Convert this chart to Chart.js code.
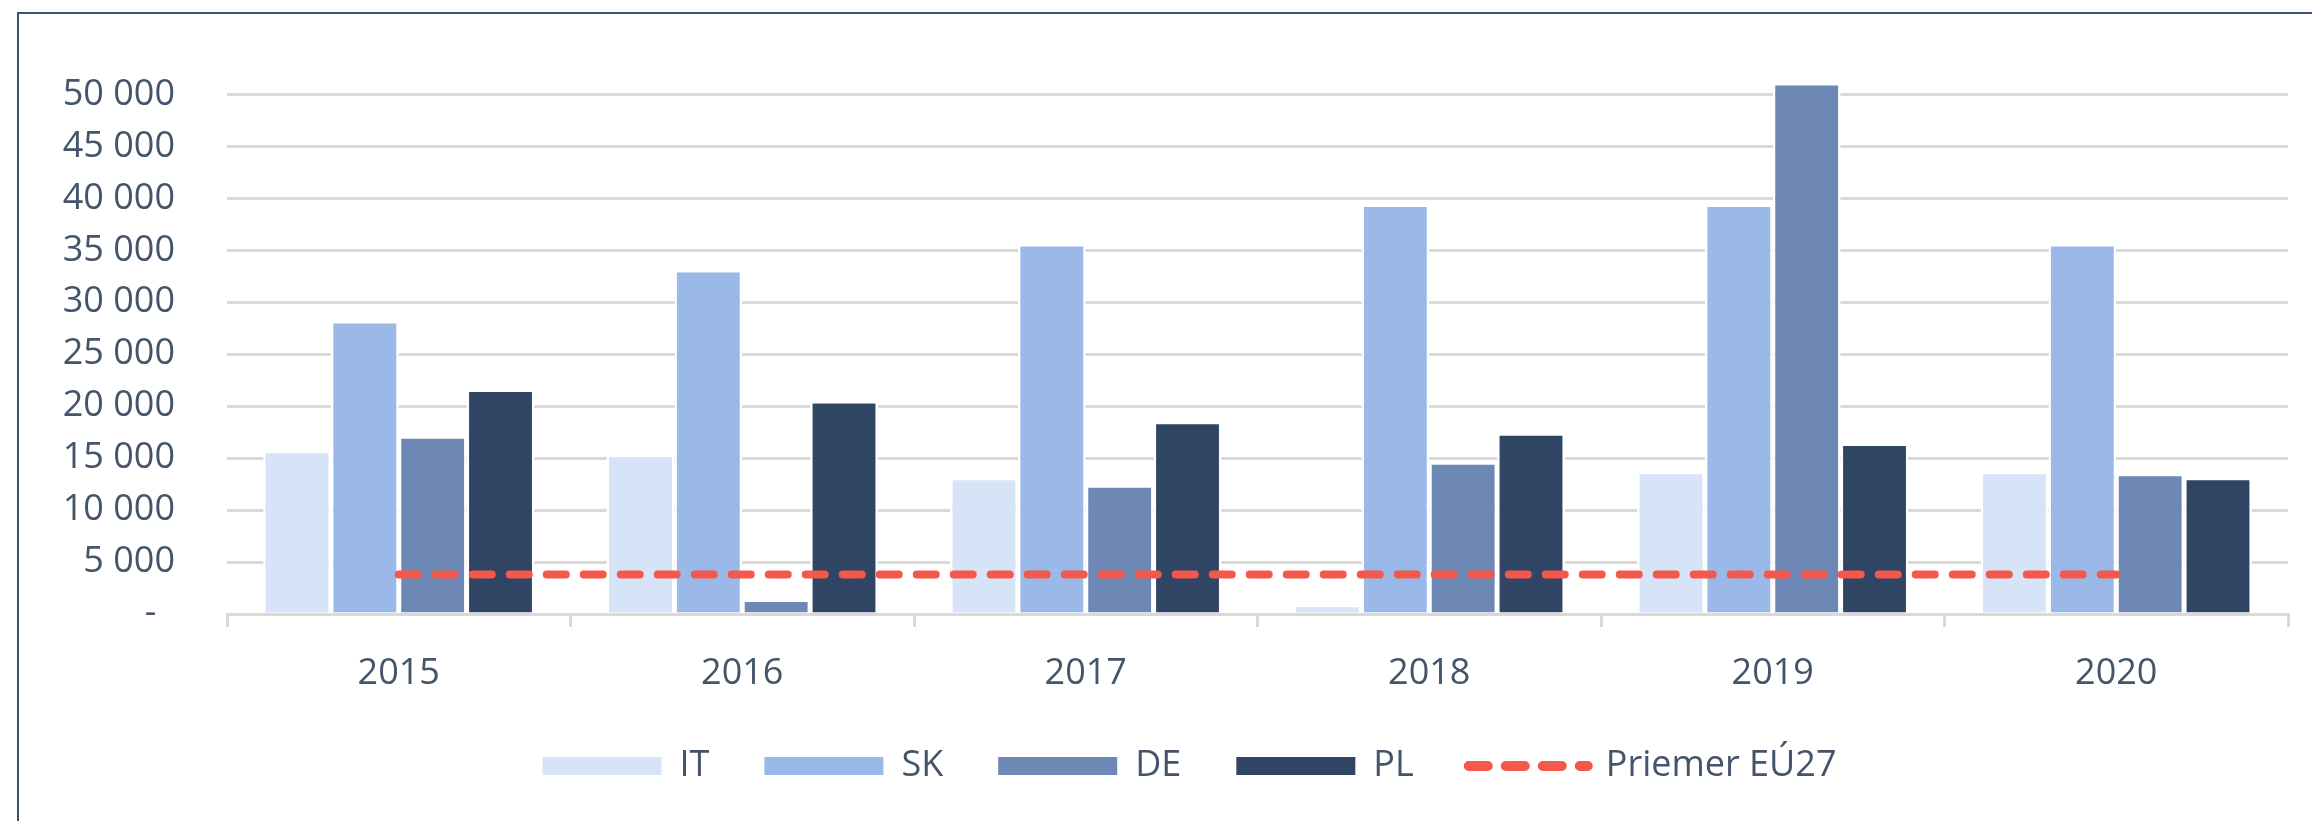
<!DOCTYPE html>
<html lang="sk">
<head>
  <meta charset="UTF-8">
  <title>Priemer EÚ27</title>
  <script src="https://cdn.jsdelivr.net/npm/chart.js"></script>
  <style>
    body {
      margin: 0;
      background: #ffffff;
    }
    .wrap {
      position: relative;
      width: 2312px;
      height: 821px;
      overflow: hidden;
    }
    .frame {
      position: absolute;
      left: 17px;
      top: 12px;
      right: -10px;
      bottom: -10px;
      border-top: 2px solid #3d5078;
      border-left: 2px solid #3d5078;
    }
    canvas {
      position: absolute;
      left: 0;
      top: 0;
    }
  </style>
</head>
<body>
  <div class="wrap">
    <div class="frame"></div>
    <canvas id="chart" width="2312" height="821"></canvas>
  </div>

  <script>
    // data
    const years = ['2015', '2016', '2017', '2018', '2019', '2020'];
    const it = [15700, 15300, 13100, 900, 13700, 13700];
    const sk = [28200, 33100, 35600, 39400, 39400, 35600];
    const de = [17100, 1400, 12400, 14600, 51100, 13500];
    const pl = [21600, 20500, 18500, 17400, 16400, 13100];
    const euAvg = [3800, 3800, 3800, 3800, 3800, 3800];
    const yTicks = [0, 5000, 10000, 15000, 20000, 25000, 30000, 35000, 40000, 45000, 50000];

    const textColor = '#44546a';
    const gridColor = '#d9d9d9';
    const font = { family: 'Open Sans', size: 36 };

    function fmt(v) {
      if (v === 0) return '-  ';
      return String(v).replace(/\B(?=(\d{3})+(?!\d))/g, ' ');
    }

    function bar(label, data, color) {
      return {
        type: 'bar',
        label: label,
        data: data,
        backgroundColor: color,
        borderColor: '#ffffff',
        borderWidth: 2.5,
        barPercentage: 1,
        categoryPercentage: 0.79
      };
    }

    // legend sits a bit right of the canvas centre in the original
    const legendShift = {
      id: 'legendShift',
      afterLayout(chart) {
        const lg = chart.legend;
        lg.left += 17;
        lg.right += 17;
        lg.top -= 3;
        lg.bottom -= 3;
      }
    };

    new Chart(document.getElementById('chart'), {
      data: {
        labels: years,
        datasets: [
          bar('IT', it, '#d7e3f6'),
          bar('SK', sk, '#9ab8e8'),
          bar('DE', de, '#6e88b5'),
          bar('PL', pl, '#304463'),
          {
            type: 'line',
            label: 'Priemer EÚ27',
            data: euAvg,
            borderColor: '#f3584a',
            backgroundColor: '#f3584a',
            borderWidth: 8,
            borderDash: [19, 18],
            borderCapStyle: 'round',
            pointRadius: 0,
            order: -1
          }
        ]
      },
      plugins: [legendShift],
      options: {
        responsive: false,
        animation: false,
        layout: {
          padding: { left: 57, right: 24, top: 72, bottom: 24 }
        },
        scales: {
          x: {
            grid: {
              drawOnChartArea: false,
              drawTicks: true,
              tickLength: 13,
              color: gridColor,
              lineWidth: 3
            },
            border: { color: gridColor, width: 3 },
            ticks: { color: textColor, font: font, padding: 25 },
            afterFit: function(scale) { scale.height = 82; }
          },
          y: {
            min: 0,
            max: 52000,
            afterBuildTicks: function(scale) {
              scale.ticks = yTicks.map(v => ({ value: v }));
            },
            afterFit: function(scale) { scale.width = 170; },
            grid: { color: gridColor, lineWidth: 3, drawTicks: false },
            border: { display: false },
            ticks: {
              color: textColor,
              font: font,
              padding: 52,
              callback: fmt
            }
          }
        },
        plugins: {
          tooltip: { enabled: false },
          legend: {
            position: 'bottom',
            maxHeight: 110,
            labels: {
              color: textColor,
              font: font,
              usePointStyle: true,
              pointStyleWidth: 119,
              boxHeight: 18,
              padding: 55,
              sort: (a, b) => a.datasetIndex - b.datasetIndex,
              generateLabels: function(chart) {
                const items = Chart.defaults.plugins.legend.labels.generateLabels(chart);
                items.forEach(item => {
                  if (item.datasetIndex === 4) {
                    item.pointStyle = 'line';
                    item.lineWidth = 10;
                    item.lineCap = 'round';
                    item.lineDash = [19, 18];
                  } else {
                    item.pointStyle = 'rect';
                    item.lineWidth = 0;
                  }
                });
                return items;
              }
            }
          }
        }
      }
    });
  </script>
</body>
</html>
